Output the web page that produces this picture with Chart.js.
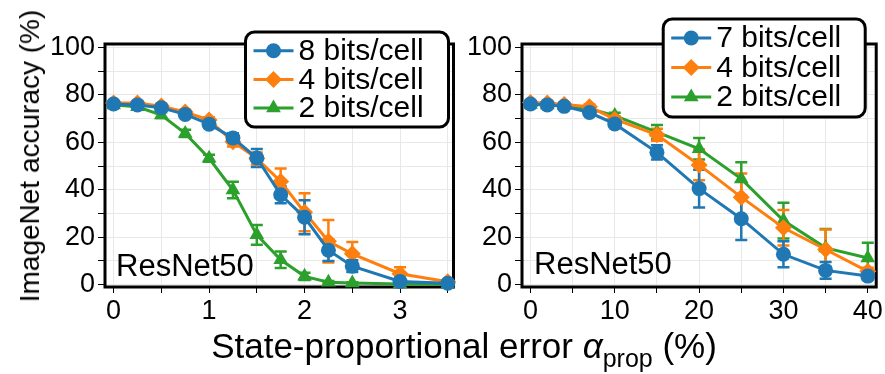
<!DOCTYPE html>
<html>
<head>
<meta charset="utf-8">
<script src="https://cdn.jsdelivr.net/npm/chart.js@4.4.1/dist/chart.umd.min.js"></script>
<style>
    body { margin: 0; background: #fff; width: 885px; height: 374px; position: relative; overflow: hidden; font-family: "Liberation Sans", Arial, sans-serif; color: #000; }
    #graficoIzq { position: absolute; left: 0; top: 0; }
    #graficoDer { position: absolute; left: 462px; top: 0; }
    #tituloY { position: absolute; left: 30px; top: 156px; transform: translate(-50%, -50%) rotate(-90deg); white-space: nowrap; font-size: 28px; line-height: 28px; }
    #tituloX { position: absolute; left: 464px; top: 328px; transform: translateX(-50%); white-space: nowrap; font-size: 35px; line-height: 35px; }
    #tituloX sub { font-size: 25px; vertical-align: baseline; position: relative; top: 9px; }
</style>
</head>
<body>
<canvas id="graficoIzq" width="462" height="374"></canvas>
<canvas id="graficoDer" width="423" height="374"></canvas>
<div id="tituloY">ImageNet accuracy (%)</div>
<div id="tituloX">State-proportional error <i>α</i><sub>prop</sub> (%)</div>
<script>
// Datos
const modelo = "ResNet50";
const ticksY = [0, 10, 20, 30, 40, 50, 60, 70, 80, 90, 100];

// Panel izquierdo
const xIzq = [0, 0.25, 0.5, 0.75, 1, 1.25, 1.5, 1.75, 2, 2.25, 2.5, 3, 3.5];
const ticksXIzq = [0, 0.5, 1, 1.5, 2, 2.5, 3, 3.5];
const acc8 = [76.2, 75.8, 74.6, 71.8, 67.7, 61.9, 53.4, 37.9, 28.4, 14.5, 7.8, 1.3, 0.6];
const err8 = [0.8, 0.8, 1, 1, 1.5, 2, 3.8, 3.6, 7.2, 4.5, 2.5, 0.8, 0.5];
const acc4Izq = [76.6, 76.6, 75.3, 72.8, 69.4, 60.3, 53.2, 43.5, 30.5, 18.3, 13, 4.6, 1.2];
const err4Izq = [0.8, 0.8, 1, 1, 1.2, 2, 2.5, 5.5, 8, 9, 5, 2.7, 0.8];
const acc2Izq = [75.8, 75, 71.5, 63.8, 53.3, 39.9, 21, 10.5, 3.5, 1, 0.7, 0.3, 0.2];
const err2Izq = [0.8, 1, 1.2, 1.5, 1.5, 3.5, 4.2, 3.5, 1.5, 0.5, 0.3, 0.2, 0.1];

// Panel derecho
const xDer = [0, 2, 4, 7, 10, 15, 20, 25, 30, 35, 40];
const ticksXDer = [0, 5, 10, 15, 20, 25, 30, 35, 40];
const acc7 = [76.2, 75.8, 75.2, 72.6, 67.8, 55.8, 40.5, 27.8, 12.8, 6, 3.6];
const err7 = [0.8, 0.8, 0.8, 1, 1.2, 3, 8, 9, 5.5, 3.5, 1.5];
const acc4Der = [76.8, 76.6, 76, 75, 69.8, 63.2, 50.5, 36.9, 24, 14.8, 5.6];
const err4Der = [0.8, 0.8, 0.8, 1, 1.2, 2.5, 6.5, 10, 7.5, 8.5, 1.5];
const acc2Der = [76, 75.8, 75.6, 74.2, 71.3, 64.3, 57.3, 44.6, 27, 15.5, 11.2];
const err2Der = [0.8, 0.8, 0.8, 1, 1.2, 3, 4.5, 7, 7.5, 8, 6.5];

const azul = "#1f77b4", naranja = "#ff7f0e", verde = "#2ca02c";
const fuente = '"Liberation Sans", Arial, sans-serif';

function serie(etiqueta, xs, ys, errs, color, estilo, radio) {
    return {
        label: etiqueta,
        data: xs.map((x, i) => ({ x: x, y: ys[i] })),
        errores: errs,
        borderColor: color,
        backgroundColor: color,
        borderWidth: 3,
        pointStyle: estilo,
        pointRadius: radio,
        pointHoverRadius: radio,
        pointBorderWidth: 0,
        tension: 0,
        clip: false
    };
}

// Marco negro grueso alrededor del área y barras de error
const marcoPlugin = {
    id: "marco",
    beforeDatasetsDraw(chart) {
        const ctx = chart.ctx, a = chart.chartArea;
        ctx.save();
        ctx.lineWidth = 3;
        ctx.strokeStyle = "#000";
        ctx.strokeRect(a.left, a.top, a.right - a.left, a.bottom - a.top);
        const xs = chart.scales.x, ys = chart.scales.y;
        // Barras de error (se dibujan de la última serie a la primera)
        for (let i = chart.data.datasets.length - 1; i >= 0; i--) {
            const ds = chart.data.datasets[i];
            ctx.strokeStyle = ds.borderColor;
            ctx.lineWidth = 2.5;
            ds.data.forEach((p, j) => {
                const e = ds.errores[j];
                const px = xs.getPixelForValue(p.x);
                const y1 = ys.getPixelForValue(p.y + e);
                const y2 = ys.getPixelForValue(p.y - e);
                ctx.beginPath();
                ctx.moveTo(px, y1); ctx.lineTo(px, y2);
                ctx.moveTo(px - 6, y1); ctx.lineTo(px + 6, y1);
                ctx.moveTo(px - 6, y2); ctx.lineTo(px + 6, y2);
                ctx.stroke();
            });
        }
        ctx.restore();
    },
    afterDraw(chart, args, opts) {
        const ctx = chart.ctx, a = chart.chartArea;
        ctx.save();
        // Texto del modelo
        ctx.fillStyle = "#000";
        ctx.font = "31px " + fuente;
        ctx.textBaseline = "alphabetic";
        ctx.fillText(modelo, a.left + opts.txtDx, a.bottom - opts.txtDy);
        // Leyenda con caja redondeada
        const x0 = a.right + opts.dx, y0 = a.top + opts.dy;
        ctx.beginPath();
        ctx.roundRect(x0, y0, opts.w, opts.h, 9);
        ctx.fillStyle = "#fff";
        ctx.fill();
        ctx.lineWidth = 3;
        ctx.strokeStyle = "#000";
        ctx.stroke();
        chart.data.datasets.forEach((ds, i) => {
            const y = y0 + opts.primera + i * opts.paso;
            ctx.strokeStyle = ds.borderColor;
            ctx.lineWidth = 3;
            ctx.beginPath();
            ctx.moveTo(x0 + 8, y); ctx.lineTo(x0 + 48, y);
            ctx.stroke();
            ctx.fillStyle = ds.backgroundColor;
            Chart.helpers.drawPoint(ctx, { pointStyle: ds.pointStyle, radius: ds.pointRadius, borderWidth: 0, rotation: 0 }, x0 + 28, y);
            ctx.fillStyle = "#000";
            ctx.font = "30px " + fuente;
            ctx.textBaseline = "middle";
            ctx.fillText(ds.label, x0 + 53, y + 1);
        });
        ctx.restore();
    }
};

function opciones(ticksX, minX, maxX, anchoY, etiquetaX, leyenda, derecha) {
    return {
        responsive: false,
        animation: false,
        layout: { padding: { left: 0, right: derecha, top: 44, bottom: 47 } },
        plugins: { legend: { display: false }, tooltip: { enabled: false }, marco: leyenda },
        scales: {
            x: {
                type: "linear", min: minX, max: maxX,
                afterBuildTicks: s => { s.ticks = ticksX.map(v => ({ value: v })); },
                afterFit: s => { s.height = 40; },
                grid: { color: "#e8e8e8", lineWidth: 1, tickColor: "#000", tickLength: 6, drawTicks: true },
                border: { display: false },
                ticks: { color: "#000", font: { family: fuente, size: 27 }, padding: 2, maxRotation: 0, autoSkip: false, callback: etiquetaX }
            },
            y: {
                min: -1, max: 101.5,
                afterBuildTicks: s => { s.ticks = ticksY.map(v => ({ value: v })); },
                afterFit: s => { s.width = anchoY; },
                grid: { color: "#e8e8e8", lineWidth: 1, tickColor: "#000", tickLength: 7, drawTicks: true },
                border: { display: false },
                ticks: { color: "#000", font: { family: fuente, size: 27 }, padding: 3, autoSkip: false, callback: v => (v % 20 === 0 ? String(v) : "") }
            }
        }
    };
}

new Chart(document.getElementById("graficoIzq"), {
    type: "line",
    data: {
        datasets: [
            serie("8 bits/cell", xIzq, acc8, err8, azul, "circle", 7.5),
            serie("4 bits/cell", xIzq, acc4Izq, err4Izq, naranja, "rectRot", 8.5),
            serie("2 bits/cell", xIzq, acc2Izq, err2Izq, verde, "triangle", 8.5)
        ]
    },
    options: opciones(ticksXIzq, -0.09, 3.56, 105, v => (Number.isInteger(v) ? String(v) : ""),
        { dx: -208, dy: -12, w: 203, h: 95, primera: 18.7, paso: 28.7, txtDx: 11, txtDy: 11 }, 7),
    plugins: [marcoPlugin]
});

new Chart(document.getElementById("graficoDer"), {
    type: "line",
    data: {
        datasets: [
            serie("7 bits/cell", xDer, acc7, err7, azul, "circle", 7.5),
            serie("4 bits/cell", xDer, acc4Der, err4Der, naranja, "rectRot", 8.5),
            serie("2 bits/cell", xDer, acc2Der, err2Der, verde, "triangle", 8.5)
        ]
    },
    options: opciones(ticksXDer, -1, 41, 60, v => (v % 10 === 0 ? String(v) : ""),
        { dx: -213, dy: -25, w: 202, h: 98, primera: 19, paso: 29.5, txtDx: 12, txtDy: 13 }, 7),
    plugins: [marcoPlugin]
});
</script>
</body>
</html>
